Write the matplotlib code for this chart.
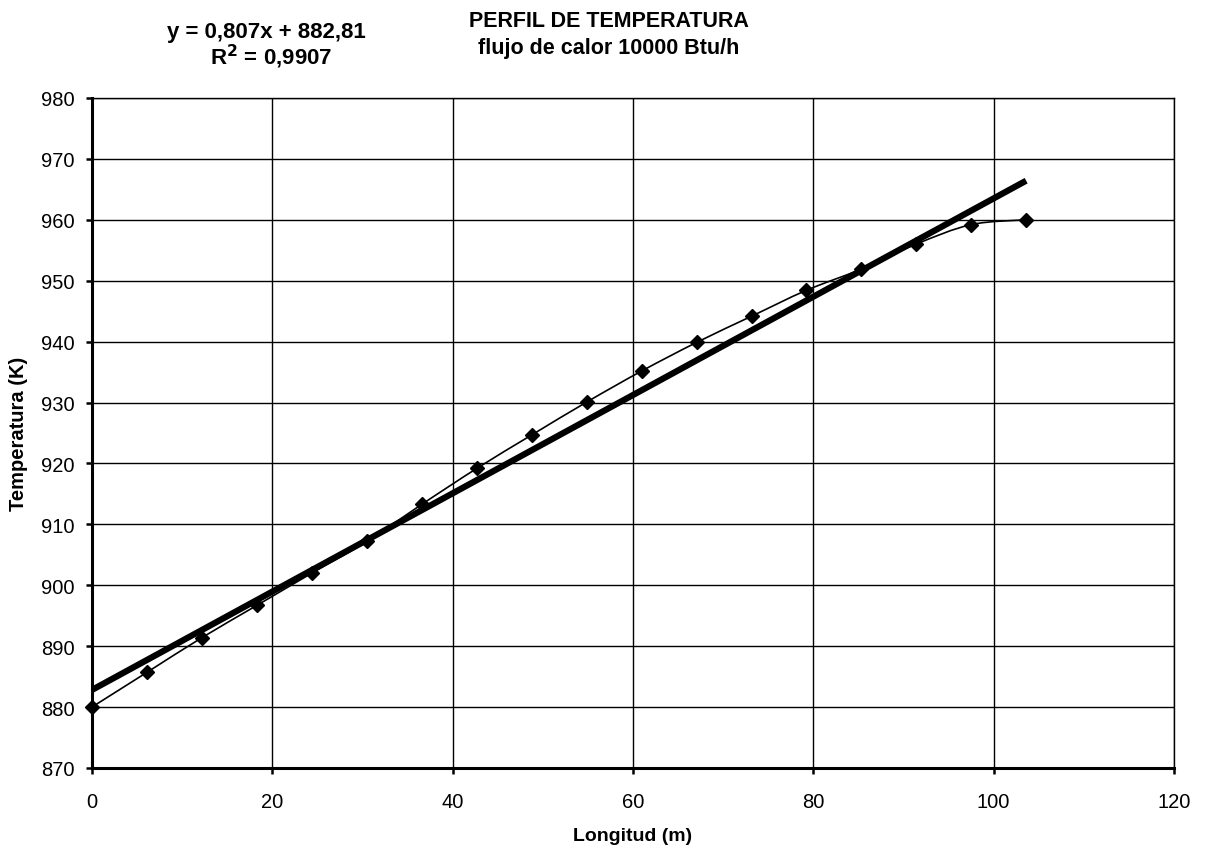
import numpy as np
import matplotlib
matplotlib.use('Agg')
import matplotlib.pyplot as plt
from matplotlib.path import Path
from matplotlib.patches import PathPatch

plt.rcParams['font.family'] = ['Liberation Sans', 'DejaVu Sans']

longitud = [0, 6.1, 12.2, 18.3, 24.4, 30.5, 36.6, 42.7, 48.8, 54.9,
            61.0, 67.1, 73.2, 79.2, 85.3, 91.4, 97.5, 103.6]
temperatura = [880.0, 885.7, 891.4, 896.7, 902.0, 907.2, 913.3, 919.2, 924.7, 930.1,
               935.2, 939.9, 944.2, 948.4, 951.9, 956.0, 959.2, 960.0]
pendiente = 0.807
intercepto = 882.81
r2 = 0.9907

fig = plt.figure(figsize=(12.05, 8.53), dpi=100)
ax = fig.add_axes([0.0763, 0.0985, 0.898, 0.7855])

# smoothed line like excel (bezier through the points)
x = np.array(longitud)
y = np.array(temperatura)
verts = [(x[0], y[0])]
codes = [Path.MOVETO]
for i in range(len(x) - 1):
    x0, y0 = (x[i - 1], y[i - 1]) if i > 0 else (x[i], y[i])
    x3, y3 = (x[i + 2], y[i + 2]) if i + 2 < len(x) else (x[i + 1], y[i + 1])
    c1 = (x[i] + (x[i + 1] - x0) / 6, y[i] + (y[i + 1] - y0) / 6)
    c2 = (x[i + 1] - (x3 - x[i]) / 6, y[i + 1] - (y3 - y[i]) / 6)
    verts += [c1, c2, (x[i + 1], y[i + 1])]
    codes += [Path.CURVE4] * 3
ax.add_patch(PathPatch(Path(verts, codes), fill=False, edgecolor='black', lw=1.2, zorder=3))
ax.plot(longitud, temperatura, 'D', color='black', markersize=7.5, zorder=4, clip_on=False)

xt = np.array([0, longitud[-1]])
ax.plot(xt, pendiente * xt + intercepto, color='black', lw=4.5, zorder=3, solid_capstyle='butt')

ax.set_xlim(0, 120)
ax.set_ylim(870, 980)
ax.set_xticks(range(0, 121, 20))
ax.set_yticks(range(870, 981, 10))
ax.grid(True, color='black', lw=1.0)
ax.set_axisbelow(True)
for s in ['top', 'right']:
    ax.spines[s].set_linewidth(1.0)
for s in ['left', 'bottom']:
    ax.spines[s].set_linewidth(2.2)
ax.tick_params(direction='out', length=4.5, width=1.8, labelsize=14.5, color='black')
ax.tick_params(axis='y', pad=8)
ax.tick_params(axis='x', pad=13)

ax.set_xlabel('Longitud (m)', fontsize=14, fontweight='bold', labelpad=11)
ax.set_ylabel('Temperatura (K)', fontsize=14.5, fontweight='bold', labelpad=9)

fig.text(0.505, 1 - 27 / 853, 'PERFIL DE TEMPERATURA', ha='center', va='baseline',
         fontsize=15.5, fontweight='bold')
fig.text(0.505, 1 - 54 / 853, 'flujo de calor 10000 Btu/h', ha='center', va='baseline',
         fontsize=15.5, fontweight='bold')
fig.text(0.221, 1 - 38 / 853, 'y = 0,807x + 882,81', ha='center', va='baseline',
         fontsize=16, fontweight='bold')
fig.text(0.225, 1 - 65 / 853, r'R$^\mathbf{2}$ = 0,9907', ha='center', va='baseline',
         fontsize=16, fontweight='bold')

fig.savefig('out.png', dpi=100)
